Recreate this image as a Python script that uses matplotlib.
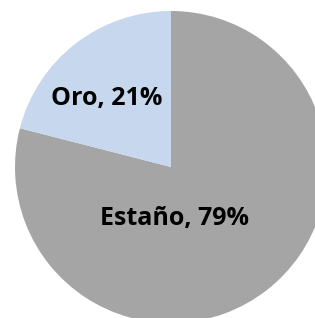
import matplotlib
matplotlib.use("Agg")
import matplotlib.pyplot as plt

categories = ["Estaño", "Oro"]
values = [79, 21]
colors = ["#A5A5A5", "#C6D7EE"]

W, H = 315, 318
fig = plt.figure(figsize=(W / 100, H / 100), dpi=100)
cx, cy, r = 171, 167, 156
ax = fig.add_axes([(cx - r) / W, (H - cy - r) / H, 2 * r / W, 2 * r / H])

wedges, _ = ax.pie(values, colors=colors, startangle=90, counterclock=False,
                   radius=1, wedgeprops=dict(linewidth=0))
for w in wedges:
    w.set_clip_on(False)
ax.set_xlim(-1, 1)
ax.set_ylim(-1, 1)
ax.set_aspect("equal")
ax.axis("off")

label_pos = [(0.02, -0.33), (-0.41, 0.44)]
for cat, v, (x, y) in zip(categories, values, label_pos):
    ax.text(x, y, f"{cat}, {v}%", ha="center", va="center", fontsize=18,
            fontweight="bold", family="Open Sans", color="black")

fig.savefig("out.png", dpi=100)
